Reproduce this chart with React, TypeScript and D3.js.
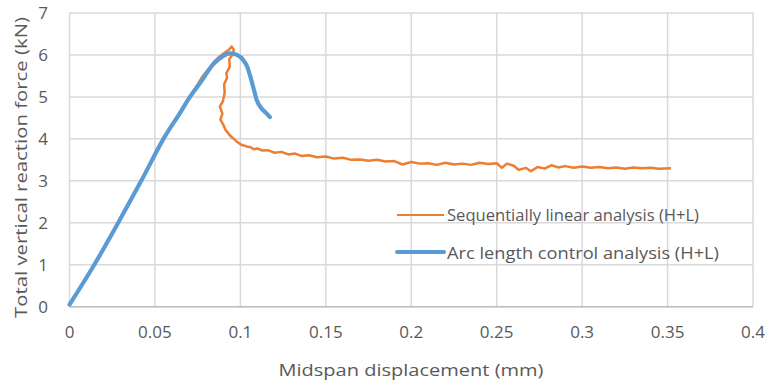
import React from "react";
import * as d3 from "d3";

const xTicks = [0, 0.05, 0.1, 0.15, 0.2, 0.25, 0.3, 0.35, 0.4];
const xTickLabels = ["0", "0.05", "0.1", "0.15", "0.2", "0.25", "0.3", "0.35", "0.4"];
const yTicks = [0, 1, 2, 3, 4, 5, 6, 7];

const seriesNames = ["Sequentially linear analysis (H+L)", "Arc length control analysis (H+L)"];

// Arc length control analysis
const arcX = [0, 0.0145, 0.0285, 0.042, 0.055, 0.0647, 0.0705, 0.0764, 0.0842, 0.09, 0.094, 0.098, 0.1017, 0.1040, 0.1056, 0.1076, 0.1096, 0.1125, 0.1150, 0.1173];
const arcY = [0.05, 1, 2, 3, 4, 4.62, 5.0, 5.33, 5.78, 5.98, 6.04, 6.0, 5.88, 5.72, 5.52, 5.22, 4.92, 4.72, 4.62, 4.52];

// Sequentially linear analysis
const slaX = [0, 0.0145, 0.0285, 0.042, 0.055, 0.0647, 0.0676, 0.0705, 0.075, 0.078, 0.082, 0.085, 0.088, 0.091, 0.0935, 0.0949, 0.0962, 0.0952, 0.0935, 0.0938, 0.0918, 0.0922, 0.0905, 0.0908, 0.0898, 0.088, 0.0895, 0.0883, 0.0902, 0.0912, 0.0939, 0.0978, 0.1005, 0.1037,
  0.106, 0.108, 0.11, 0.113, 0.116, 0.12, 0.124, 0.128, 0.132, 0.136, 0.14, 0.145, 0.15, 0.155, 0.16, 0.165, 0.17, 0.175, 0.18, 0.185, 0.19, 0.195, 0.2, 0.205, 0.21, 0.215, 0.22, 0.225, 0.23, 0.235, 0.24, 0.245, 0.25, 0.253, 0.256, 0.26, 0.263, 0.267, 0.27, 0.274, 0.278, 0.282, 0.286, 0.29, 0.295, 0.3, 0.305, 0.31, 0.315, 0.32, 0.325, 0.33, 0.335, 0.34, 0.345, 0.352];
const slaY = [0.05, 1, 2, 3, 4, 4.62, 4.84, 5.02, 5.3, 5.5, 5.7, 5.86, 5.97, 6.06, 6.13, 6.2, 6.12, 6.0, 5.9, 5.72, 5.57, 5.45, 5.3, 5.1, 4.9, 4.77, 4.6, 4.46, 4.32, 4.22, 4.08, 3.94, 3.86, 3.82,
  3.8, 3.75, 3.77, 3.72, 3.73, 3.67, 3.69, 3.63, 3.65, 3.59, 3.61, 3.56, 3.58, 3.53, 3.55, 3.5, 3.51, 3.48, 3.5, 3.46, 3.47, 3.39, 3.45, 3.41, 3.42, 3.38, 3.43, 3.39, 3.41, 3.38, 3.43, 3.4, 3.42, 3.31, 3.41, 3.36, 3.26, 3.31, 3.23, 3.33, 3.29, 3.37, 3.32, 3.35, 3.31, 3.34, 3.31, 3.33, 3.3, 3.32, 3.29, 3.32, 3.3, 3.31, 3.29, 3.3];

const W = 770;
const H = 386;
const left = 69.5;
const right = 753;
const top = 13;
const bottom = 306.7;

const textColor = "#595959";
const gridColor = "#d9d9d9";
const orange = "#ed7d31";
const blue = "#5b9bd5";
const font = "'Open Sans', sans-serif";

export default function App() {
  const x = d3.scaleLinear().domain([0, 0.4]).range([left, right]);
  const y = d3.scaleLinear().domain([0, 7]).range([bottom, top]);

  const lineLinear = d3
    .line<[number, number]>()
    .x((d) => x(d[0]))
    .y((d) => y(d[1]))
    .curve(d3.curveLinear);

  const lineSmooth = d3
    .line<[number, number]>()
    .x((d) => x(d[0]))
    .y((d) => y(d[1]))
    .curve(d3.curveMonotoneX);

  const arcPts: [number, number][] = arcX.map((v, i) => [v, arcY[i]]);
  const slaPts: [number, number][] = slaX.map((v, i) => [v, slaY[i]]);

  return (
    <svg
      width={W}
      height={H}
      style={{ position: "absolute", left: 0, top: 0, background: "#fff" }}
      fontFamily={font}
    >
      <rect x={0} y={0} width={W} height={H} fill="#fff" />
      {yTicks.map((t) => (
        <line key={"gy" + t} x1={left} x2={right} y1={y(t)} y2={y(t)} stroke={gridColor} strokeWidth={1.5} />
      ))}
      {xTicks.map((t) => (
        <line key={"gx" + t} x1={x(t)} x2={x(t)} y1={top} y2={bottom} stroke={gridColor} strokeWidth={1.5} />
      ))}
      <line x1={left} x2={right} y1={bottom} y2={bottom} stroke="#bfbfbf" strokeWidth={1.5} />

      {xTicks.map((t, i) => (
        <text key={"tx" + t} x={x(t)} y={338} textAnchor="middle" fontSize={17} fill={textColor}>
          {xTickLabels[i]}
        </text>
      ))}
      {yTicks.map((t) => (
        <text key={"ty" + t} x={48} y={y(t) + 6} textAnchor="end" fontSize={17} fill={textColor}>
          {t}
        </text>
      ))}

      <text
        x={411}
        y={376}
        textAnchor="middle"
        fontSize={17}
        fill={textColor}
        textLength={265}
        lengthAdjust="spacingAndGlyphs"
      >
        Midspan displacement (mm)
      </text>
      <text
        transform={`translate(27,167.5) rotate(-90)`}
        textAnchor="middle"
        fontSize={17}
        fill={textColor}
        textLength={301}
        lengthAdjust="spacingAndGlyphs"
      >
        Total vertical reaction force (kN)
      </text>

      <path d={lineLinear(slaPts) || ""} fill="none" stroke={orange} strokeWidth={2.5} strokeLinejoin="round" />
      <path d={lineSmooth(arcPts) || ""} fill="none" stroke={blue} strokeWidth={4.2} strokeLinejoin="round" strokeLinecap="round" />

      <line x1={397} x2={444} y1={215} y2={215} stroke={orange} strokeWidth={2} />
      <text x={447} y={221} fontSize={16} fill={textColor} textLength={252} lengthAdjust="spacingAndGlyphs">
        {seriesNames[0]}
      </text>
      <line x1={397} x2={444} y1={252} y2={252} stroke={blue} strokeWidth={4} strokeLinecap="round" />
      <text x={447} y={259} fontSize={16} fill={textColor} textLength={272} lengthAdjust="spacingAndGlyphs">
        {seriesNames[1]}
      </text>
    </svg>
  );
}
